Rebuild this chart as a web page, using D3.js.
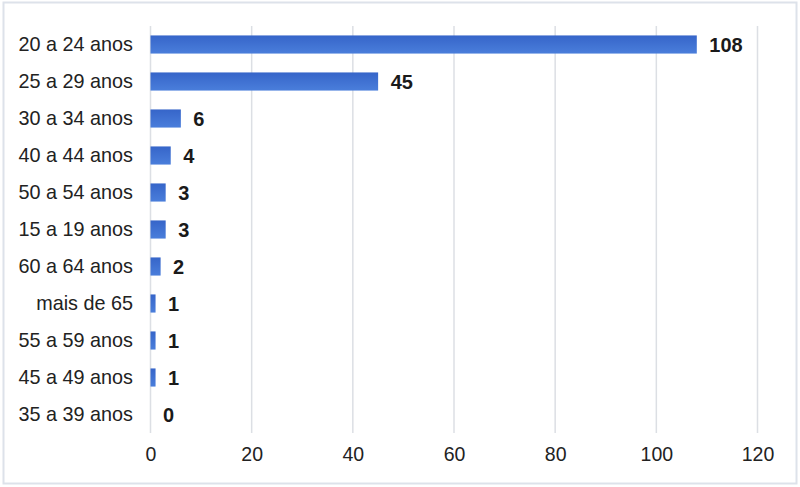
<!DOCTYPE html>
<html>
<head>
<meta charset="utf-8">
<script src="https://cdn.jsdelivr.net/npm/d3@7"></script>
<style>
  body { margin: 0; background: #fff; }
  svg { display: block; font-family: "Liberation Sans", Arial, sans-serif; }
</style>
</head>
<body>
<svg id="chart" width="800" height="487"></svg>
<script>
var categories = ["20 a 24 anos", "25 a 29 anos", "30 a 34 anos", "40 a 44 anos", "50 a 54 anos",
                  "15 a 19 anos", "60 a 64 anos", "mais de 65", "55 a 59 anos", "45 a 49 anos", "35 a 39 anos"];
var values = [108, 45, 6, 4, 3, 3, 2, 1, 1, 1, 0];
var xTicks = [0, 20, 40, 60, 80, 100, 120];

var svg = d3.select("#chart");

// frame round the chart
svg.append("rect")
    .attr("x", 3.5).attr("y", 2.5)
    .attr("width", 793).attr("height", 481)
    .attr("fill", "#fff")
    .attr("stroke", "#dde2ea")
    .attr("stroke-width", 2);

var defs = svg.append("defs");
var grad = defs.append("linearGradient")
    .attr("id", "barGrad")
    .attr("x1", 0).attr("y1", 0).attr("x2", 0).attr("y2", 1);
grad.append("stop").attr("offset", "0%").attr("stop-color", "#3665c9");
grad.append("stop").attr("offset", "100%").attr("stop-color", "#4a7edb");

var x = d3.scaleLinear()
    .domain([0, 120])
    .range([150.5, 757.5]);

var y = d3.scaleBand()
    .domain(categories)
    .range([26, 433])
    .paddingInner(0.51)
    .paddingOuter(0.255);

// gridlines
svg.append("g")
    .selectAll("line")
    .data(xTicks)
  .enter().append("line")
    .attr("x1", function(d) { return x(d); })
    .attr("x2", function(d) { return x(d); })
    .attr("y1", 26)
    .attr("y2", 433)
    .attr("stroke", "#dcdfe4")
    .attr("stroke-width", 1.5);

// x axis labels
var xAxis = d3.axisBottom(x)
    .tickValues(xTicks)
    .tickSize(0)
    .tickPadding(0);

var gx = svg.append("g")
    .attr("transform", "translate(0,447)")
    .call(xAxis);
gx.select(".domain").remove();
gx.selectAll("text")
    .attr("font-size", "19.5px")
    .attr("font-family", "'Liberation Sans', Arial, sans-serif")
    .attr("fill", "#222");

// y axis labels
var yAxis = d3.axisLeft(y)
    .tickSize(0)
    .tickPadding(0);

var gy = svg.append("g")
    .attr("transform", "translate(133,0)")
    .call(yAxis);
gy.select(".domain").remove();
gy.selectAll("text")
    .attr("font-size", "19.8px")
    .attr("font-family", "'Liberation Sans', Arial, sans-serif")
    .attr("fill", "#222");

var data = categories.map(function(c, i) { return [c, values[i]]; });

var bar = svg.selectAll(".bar")
    .data(data)
  .enter().append("g")
    .attr("class", "bar");

bar.append("rect")
    .attr("x", x(0))
    .attr("y", function(d) { return y(d[0]); })
    .attr("width", function(d) { return x(d[1]) - x(0); })
    .attr("height", y.bandwidth())
    .attr("fill", "url(#barGrad)");

bar.append("text")
    .attr("x", function(d) { return x(d[1]) + 12.5; })
    .attr("y", function(d) { return y(d[0]) + y.bandwidth() / 2; })
    .attr("dy", "0.36em")
    .attr("font-size", "20px")
    .attr("font-weight", "bold")
    .attr("fill", "#1a1a1a")
    .text(function(d) { return d[1]; });
</script>
</body>
</html>
